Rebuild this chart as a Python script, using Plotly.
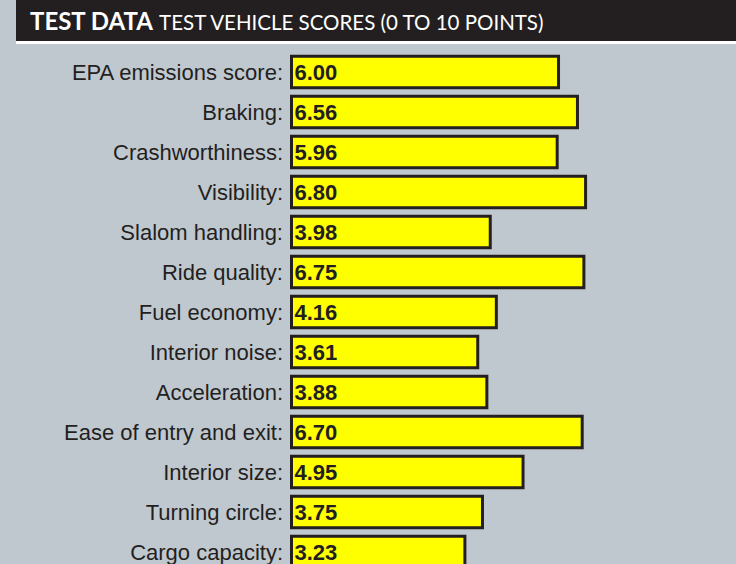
import plotly.graph_objects as go

# Test vehicle scores, 0 to 10 points
categories = [
    "EPA emissions score",
    "Braking",
    "Crashworthiness",
    "Visibility",
    "Slalom handling",
    "Ride quality",
    "Fuel economy",
    "Interior noise",
    "Acceleration",
    "Ease of entry and exit",
    "Interior size",
    "Turning circle",
    "Cargo capacity",
]
scores = [6.00, 6.56, 5.96, 6.80, 3.98, 6.75, 4.16, 3.61, 3.88, 6.70, 4.95, 3.75, 3.23]
score_labels = [f"{s:.2f}" for s in scores]
tick_labels = [f"{c}:" for c in categories]

BAR_BASE = -1.9          # bars start a little left of zero so short scores keep room for the label
X_RANGE = [-1.944, 11.25]

W, H = 736, 564
M_L, M_R, M_T, M_B = 290, 0, 44, 0
BG = "#c0c8cf"
INK = "#231f20"


def px_x(px):
    return (px - M_L) / (W - M_L - M_R)


def px_y(py):
    return (H - M_B - py) / (H - M_T - M_B)


fig = go.Figure(
    go.Bar(
        y=categories,
        x=[s - BAR_BASE for s in scores],
        base=BAR_BASE,
        orientation="h",
        width=0.79,
        marker=dict(color="#ffff00", line=dict(color=INK, width=3)),
        text=score_labels,
        textposition="inside",
        insidetextanchor="start",
        constraintext="none",
        textfont=dict(family="Liberation Sans, Arial, sans-serif", size=22, color=INK, weight="bold"),
        textangle=0,
        hoverinfo="skip",
    )
)

# Header band
fig.add_shape(type="rect", xref="paper", yref="paper",
              x0=px_x(16), x1=px_x(W + 2), y0=px_y(41), y1=px_y(-2),
              fillcolor=INK, line=dict(width=0), layer="above")
fig.add_shape(type="rect", xref="paper", yref="paper",
              x0=px_x(16), x1=px_x(W + 2), y0=px_y(44), y1=px_y(41),
              fillcolor="#ffffff", line=dict(width=0), layer="above")
fig.add_annotation(
    xref="paper", yref="paper", x=px_x(28), y=px_y(21),
    xanchor="left", yanchor="middle", showarrow=False,
    text="<b>TEST DATA</b> <span style='font-size:20.5px'>TEST VEHICLE SCORES (0 TO 10 POINTS)</span>",
    font=dict(family="Lato, sans-serif", size=24, color="#ffffff"),
)

fig.update_layout(
    width=W, height=H,
    margin=dict(l=M_L, r=M_R, t=M_T, b=M_B, pad=0),
    paper_bgcolor=BG, plot_bgcolor=BG,
    showlegend=False,
    bargap=0.2,
    uniformtext=dict(minsize=20, mode="show"),
    xaxis=dict(range=X_RANGE, visible=False, fixedrange=True),
    yaxis=dict(
        type="category",
        categoryorder="array", categoryarray=categories,
        tickvals=categories, ticktext=tick_labels,
        range=[12.3, -0.7],
        showgrid=False, zeroline=False, showline=False,
        ticks="", ticklabelstandoff=6,
        tickfont=dict(family="Liberation Sans, Arial, sans-serif", size=22, color=INK),
        fixedrange=True,
    ),
)

fig.write_html("out.html")
